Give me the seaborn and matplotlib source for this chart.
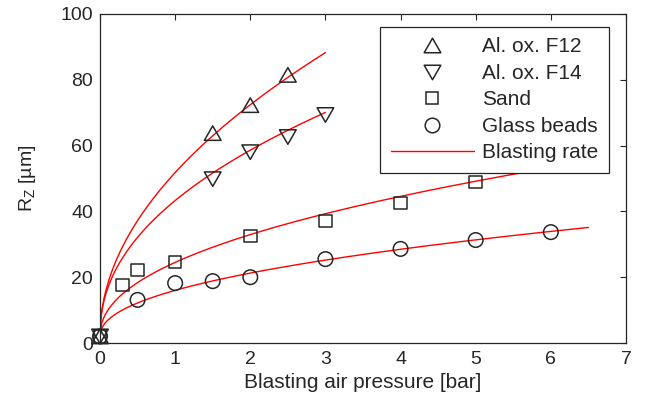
import numpy as np
import pandas as pd
import matplotlib
matplotlib.use("Agg")
import matplotlib.pyplot as plt
from matplotlib.path import Path
from matplotlib.lines import Line2D
import seaborn as sns

sns.set_theme(style="white")
plt.rcParams['font.family'] = ['Liberation Sans', 'DejaVu Sans']
plt.rcParams['mathtext.fontset'] = 'custom'
plt.rcParams['mathtext.rm'] = 'Liberation Sans'

# ---- data ----
materials = ["Al. ox. F12", "Al. ox. F14", "Sand", "Glass beads"]

f12_p = [0, 1.5, 2, 2.5]
f12_rz = [2, 63.8, 72.3, 81.5]

f14_p = [0, 1.5, 2, 2.5, 3]
f14_rz = [2, 49.8, 58.0, 62.6, 69.3]

sand_p = [0, 0.3, 0.5, 1, 2, 3, 4, 5]
sand_rz = [2, 17.6, 22.2, 24.6, 32.5, 37.1, 42.5, 48.9]

glass_p = [0, 0.5, 1, 1.5, 2, 3, 4, 5, 6]
glass_rz = [2, 13.1, 18.2, 18.8, 20.0, 25.5, 28.6, 31.3, 33.7]

# blasting-rate fit coefficients: Rz = c + a * p^b, drawn up to p_max
fit_c = [2, 2, 2, 2]
fit_a = [49.8, 41.3, 22.5, 14.0]
fit_b = [0.50, 0.455, 0.46, 0.46]
fit_pmax = [3.0, 3.0, 6.5, 6.5]

x_ticks = [0, 1, 2, 3, 4, 5, 6, 7]
y_ticks = [0, 20, 40, 60, 80, 100]

# ---- styling ----
TXT = "#262626"
tri_up = Path([(-1.15, -1), (1.15, -1), (0, 1), (-1.15, -1)],
              [Path.MOVETO, Path.LINETO, Path.LINETO, Path.CLOSEPOLY])
tri_dn = Path([(-1.15, 1), (1.15, 1), (0, -1), (-1.15, 1)],
              [Path.MOVETO, Path.LINETO, Path.LINETO, Path.CLOSEPOLY])
marker_map = {"Al. ox. F12": tri_up, "Al. ox. F14": tri_dn,
              "Sand": "s", "Glass beads": "o"}
ms_map = {"Al. ox. F12": 12, "Al. ox. F14": 12, "Sand": 9, "Glass beads": 10.5}

pts = pd.concat([
    pd.DataFrame({"p": f12_p, "rz": f12_rz, "m": materials[0]}),
    pd.DataFrame({"p": f14_p, "rz": f14_rz, "m": materials[1]}),
    pd.DataFrame({"p": sand_p, "rz": sand_rz, "m": materials[2]}),
    pd.DataFrame({"p": glass_p, "rz": glass_rz, "m": materials[3]}),
], ignore_index=True)

curves = []
for name, c, a, b, pm in zip(materials, fit_c, fit_a, fit_b, fit_pmax):
    xs = np.linspace(0, pm, 300)
    curves.append(pd.DataFrame({"p": xs, "rz": c + a * xs ** b, "m": name}))
curves = pd.concat(curves, ignore_index=True)

fig = plt.figure(figsize=(6.45, 4.07), dpi=100)
ax = fig.add_axes([100 / 645, 1 - 343 / 407, 526 / 645, 329 / 407])

sns.lineplot(data=curves, x="p", y="rz", units="m", estimator=None,
             color="red", linewidth=1.0, ax=ax, legend=False, sort=False)

for name in materials:
    sub = pts[pts["m"] == name]
    sns.scatterplot(data=sub, x="p", y="rz", marker=marker_map[name],
                    s=ms_map[name] ** 2, facecolor="none", edgecolor=TXT,
                    linewidth=1.1, ax=ax, legend=False, clip_on=False, zorder=5)

ax.set_xlim(0, 7)
ax.set_ylim(0, 100)
ax.set_xticks(x_ticks)
ax.set_yticks(y_ticks)
ax.set_xlabel("Blasting air pressure [bar]", fontsize=15, color=TXT, labelpad=3)
ax.set_ylabel(r"R$_\mathregular{Z}$ [µm]", fontsize=14, color=TXT, labelpad=16)
ax.tick_params(axis="both", which="both", direction="in", length=4, width=0.8,
               top=True, right=True, labelsize=14, colors=TXT)
ax.tick_params(axis="x", pad=6)
ax.tick_params(axis="y", pad=5)
for sp in ax.spines.values():
    sp.set_visible(True)
    sp.set_color(TXT)
    sp.set_linewidth(0.9)

handles = [Line2D([], [], linestyle="none", marker=marker_map[n],
                  markersize=ms_map[n], markerfacecolor="none",
                  markeredgecolor=TXT, markeredgewidth=1.1) for n in materials]
handles.append(Line2D([], [], color="red", linewidth=1.0))
labels = materials + ["Blasting rate"]
leg = ax.legend(handles, labels, loc="upper right",
                bbox_to_anchor=((609 - 100) / 526, (343 - 27) / 329),
                borderaxespad=0, fontsize=15, frameon=True, fancybox=False,
                framealpha=1, edgecolor=TXT, handlelength=4.0,
                handletextpad=0.4, labelspacing=0.36, borderpad=0.5)
leg.get_frame().set_linewidth(0.9)
for t in leg.get_texts():
    t.set_color(TXT)

fig.savefig("out.png", dpi=100)
